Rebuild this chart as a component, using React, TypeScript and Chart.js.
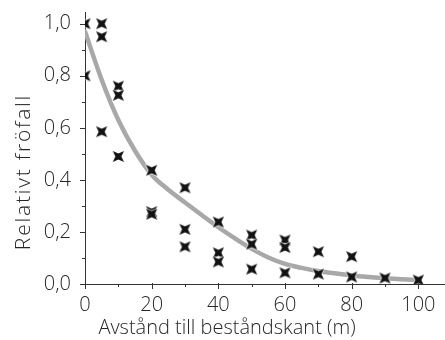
import React, { useEffect, useRef } from "react";
import { Chart, registerables } from "chart.js";

Chart.register(...registerables);

// Scatter observations (distance in m, relative seed fall)
const pointX = [0, 0, 5, 5, 5, 10, 10, 10, 20, 20, 20, 30, 30, 30, 40, 40, 40, 50, 50, 50, 60, 60, 60, 70, 70, 80, 80, 90, 100];
const pointY = [1.0, 0.8, 1.0, 0.95, 0.585, 0.76, 0.725, 0.49, 0.437, 0.278, 0.268, 0.37, 0.21, 0.143, 0.238, 0.12, 0.085, 0.188, 0.153, 0.057, 0.169, 0.14, 0.043, 0.124, 0.038, 0.105, 0.027, 0.023, 0.015];

// Fitted curve
const curveX = [0, 5, 10, 15, 20, 25, 30, 35, 40, 45, 50, 55, 60, 65, 70, 75, 80, 85, 90, 95, 100];
const curveY = [0.97, 0.785, 0.63, 0.512, 0.42, 0.362, 0.313, 0.265, 0.218, 0.175, 0.135, 0.102, 0.077, 0.062, 0.05, 0.041, 0.033, 0.027, 0.022, 0.018, 0.015];

const xTitle = "Avstånd till beståndskant (m)";
const yTitle = "Relativt fröfall";

const FONT = "'Open Sans', 'DejaVu Sans', sans-serif";
const TEXT = "#262626";

function makeStar(): HTMLCanvasElement {
  const c = document.createElement("canvas");
  const s = 15;
  c.width = s;
  c.height = s;
  const ctx = c.getContext("2d")!;
  const cx = s / 2;
  const r = 5.6;
  const w = 3.0;
  const path = () => {
    ctx.beginPath();
    ctx.moveTo(cx - r, cx - r);
    ctx.lineTo(cx, cx - w);
    ctx.lineTo(cx + r, cx - r);
    ctx.lineTo(cx + w, cx);
    ctx.lineTo(cx + r, cx + r);
    ctx.lineTo(cx, cx + w);
    ctx.lineTo(cx - r, cx + r);
    ctx.lineTo(cx - w, cx);
    ctx.closePath();
  };
  path();
  ctx.strokeStyle = "rgba(255,255,255,0.7)";
  ctx.lineWidth = 1.6;
  ctx.lineJoin = "round";
  ctx.stroke();
  path();
  ctx.fillStyle = "#121212";
  ctx.fill();
  return c;
}

const tickPlugin = {
  id: "customTicks",
  beforeDatasetsDraw(chart: any) {
    const ctx = chart.ctx;
    const xs = chart.scales.x;
    const ys = chart.scales.y;
    const area = chart.chartArea;
    ctx.save();
    ctx.strokeStyle = "#333";
    ctx.lineWidth = 1;
    ys.ticks.forEach((t: any, i: number) => {
      const py = Math.round(ys.getPixelForTick(i)) + 0.5;
      const major = Math.round(t.value * 10) % 2 === 0;
      ctx.beginPath();
      ctx.moveTo(area.left - (major ? 5 : 3), py);
      ctx.lineTo(area.left, py);
      ctx.stroke();
    });
    xs.ticks.forEach((t: any, i: number) => {
      const px = Math.round(xs.getPixelForTick(i)) + 0.5;
      const major = Math.round(t.value) % 20 === 0;
      ctx.beginPath();
      ctx.moveTo(px, area.bottom - (major ? 1 : 0));
      ctx.lineTo(px, area.bottom + (major ? 5 : 3));
      ctx.stroke();
    });
    ctx.restore();
  },
  afterDraw(chart: any) {
    const ctx = chart.ctx;
    ctx.save();
    ctx.fillStyle = TEXT;
    ctx.font = `300 20px ${FONT}`;
    ctx.textAlign = "center";
    ctx.textBaseline = "alphabetic";
    ctx.fillText(xTitle, 227, 334);
    ctx.translate(30, 172);
    ctx.rotate(-Math.PI / 2);
    ctx.font = `300 21px ${FONT}`;
    (ctx as any).letterSpacing = "1.8px";
    ctx.fillText(yTitle, 0, 0);
    ctx.restore();
  },
};

export default function App() {
  const ref = useRef<HTMLCanvasElement>(null);
  useEffect(() => {
    document.body.style.margin = "0";
    const star = makeStar();
    const chart = new Chart(ref.current!, {
      type: "scatter",
      data: {
        datasets: [
          {
            type: "line",
            data: curveX.map((x, i) => ({ x, y: curveY[i] })),
            borderColor: "#a8a8a8",
            borderWidth: 4.5,
            borderCapStyle: "round",
            pointRadius: 0,
            cubicInterpolationMode: "monotone",
            fill: false,
            order: 2,
          } as any,
          {
            type: "scatter",
            data: pointX.map((x, i) => ({ x, y: pointY[i] })),
            pointStyle: star as any,
            pointRadius: 7,
            order: 1,
          },
        ],
      },
      options: {
        animation: false,
        responsive: false,
        events: [],
        layout: { autoPadding: false, padding: { top: 12, right: 0, left: 0, bottom: 0 } },
        plugins: { legend: { display: false }, tooltip: { enabled: false } },
        scales: {
          x: {
            type: "linear",
            min: 0,
            max: 108,
            grid: { display: false, drawTicks: false },
            border: { display: true, color: "#333", width: 1 },
            ticks: {
              stepSize: 10,
              includeBounds: false,
              autoSkip: false,
              maxRotation: 0,
              padding: 9,
              color: TEXT,
              font: { family: FONT, size: 20, weight: "300" as any },
              callback: (v: any) => (Math.round(v) % 20 === 0 ? String(Math.round(v)) : ""),
            },
            afterFit: (s: any) => {
              s.height = 56;
              s.paddingLeft = 0;
              s.paddingRight = 0;
            },
          },
          y: {
            type: "linear",
            min: 0,
            max: 1.045,
            grid: { display: false, drawTicks: false },
            border: { display: true, color: "#333", width: 1 },
            ticks: {
              stepSize: 0.1,
              includeBounds: false,
              autoSkip: false,
              padding: 14,
              color: TEXT,
              font: { family: FONT, size: 20, weight: "300" as any },
              callback: (v: any) => {
                const n = Math.round(v * 10);
                return n % 2 === 0 ? (n / 10).toFixed(1).replace(".", ",") : "";
              },
            },
            afterFit: (s: any) => {
              s.width = 85;
              s.paddingTop = 0;
              s.paddingBottom = 0;
            },
          },
        },
      },
      plugins: [tickPlugin],
    });
    return () => chart.destroy();
  }, []);
  return <canvas ref={ref} width={445} height={340} style={{ display: "block" }} />;
}
